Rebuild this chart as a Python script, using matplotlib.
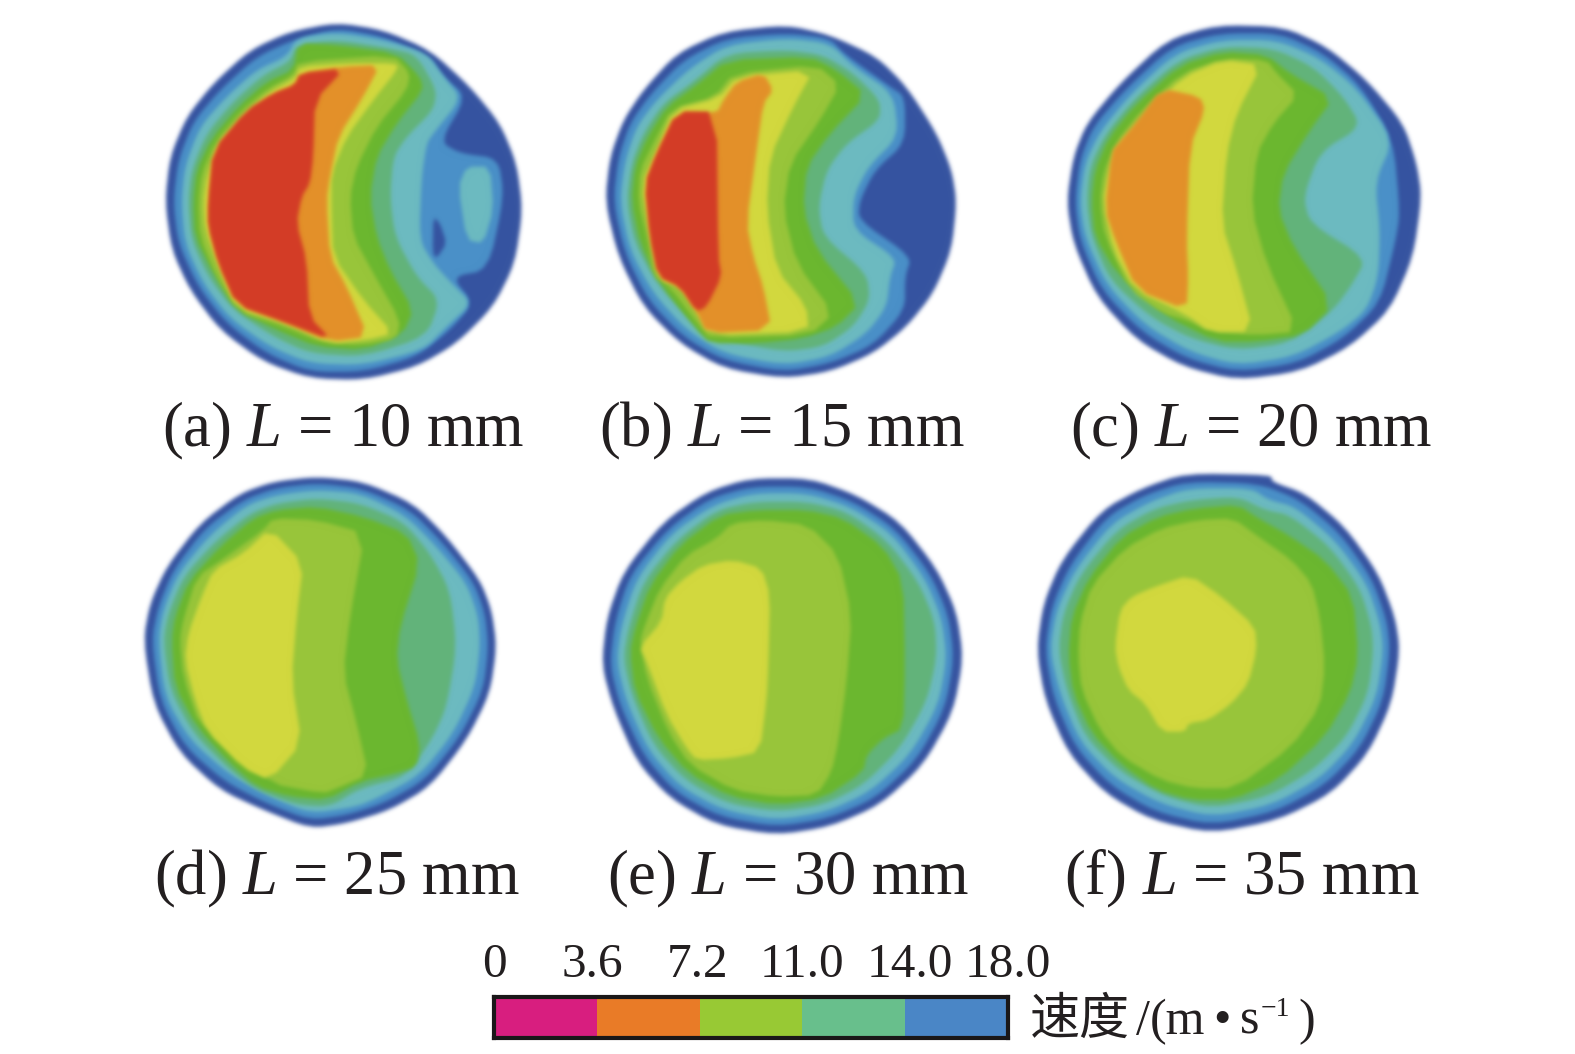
import matplotlib
matplotlib.use("Agg")
import matplotlib.pyplot as plt
import numpy as np
from matplotlib.colors import to_rgb

plt.rcParams['mathtext.fontset'] = 'custom'
plt.rcParams['mathtext.it'] = 'Liberation Serif:italic'
plt.rcParams['mathtext.rm'] = 'Liberation Serif'
SERIF = ['Liberation Serif', 'Noto Sans CJK SC']

# ---- data ----
band_colors = {'dark': '#3553A0', 'blue': '#4A90C8', 'teal': '#6CBAC0', 'tealgreen': '#62B37A',
               'green': '#6BB72F', 'lime': '#98C53A', 'yellow': '#D2D83E', 'orange': '#E39029', 'red': '#D33C26'}
captions = ['(a) $L$ = 10 mm', '(b) $L$ = 15 mm', '(c) $L$ = 20 mm',
            '(d) $L$ = 25 mm', '(e) $L$ = 30 mm', '(f) $L$ = 35 mm']
caption_x = [343, 782, 1251, 337, 788, 1242]
caption_y = [446, 446, 446, 894, 894, 894]
origins = [(150, 10), (590, 10), (1050, 10), (130, 460), (590, 465), (1025, 460)]

panel_a = [
 ('dark', [(45,575),(60,440),(110,320),(190,220),(300,120),(420,65),(560,38),(700,60),(840,120),(960,230),(1050,340),(1100,460),(1118,600),(1095,760),(1030,890),(920,1000),(800,1070),(640,1110),(480,1105),(340,1055),(210,960),(120,840),(65,720)]),
 ('blue', [(70,575),(85,450),(130,335),(210,240),(320,140),(430,90),(560,55),(700,80),(840,140),(880,200),(950,260),(870,395),(930,430),(1045,445),(1062,560),(1015,780),(905,800),(970,880),(900,960),(800,1040),(640,1085),(480,1085),(350,1030),(230,940),(145,830),(85,700)]),
 ('dark', [(850,620),(870,640),(890,700),(860,745),(848,730)]),
 ('teal', [(95,575),(105,470),(150,350),(230,260),(320,180),(410,140),(440,85),(560,68),(700,90),(830,130),(880,200),(935,265),(850,370),(830,400),(815,500),(808,690),(850,760),(905,820),(965,880),(890,950),(820,1020),(640,1065),(480,1060),(360,1010),(240,925),(160,820),(105,700)]),
 ('teal', [(950,470),(1020,470),(1030,600),(1000,700),(950,690),(925,530)]),
 ('tealgreen', [(115,575),(125,480),(170,370),(250,275),(340,195),(420,155),(440,105),(560,90),(720,115),(800,135),(860,240),(850,300),(770,380),(730,440),(720,560),(735,680),(800,800),(870,870),(830,980),(640,1040),(480,1030),(370,980),(250,900),(175,800),(125,690)]),
 ('green', [(130,575),(140,480),(185,385),(265,290),(350,215),(430,180),(445,100),(560,105),(740,130),(810,200),(820,240),(740,340),(680,440),(660,560),(680,680),(720,780),(790,900),(760,970),(640,1020),(500,1010),(380,960),(260,900),(190,790),(135,680)]),
 ('lime', [(145,575),(155,490),(195,395),(275,300),(355,235),(430,195),(445,155),(730,135),(780,190),(770,240),(680,350),(620,470),(600,560),(610,680),(670,790),(750,930),(740,985),(640,1005),(520,1000),(400,950),(265,905),(200,800),(150,680)]),
 ('yellow', [(160,575),(170,500),(205,400),(285,310),(360,245),(435,205),(450,170),(590,160),(735,160),(745,175),(670,270),(590,380),(545,490),(545,600),(550,740),(640,870),(730,970),(650,990),(540,1000),(420,945),(260,895),(205,770),(165,660)]),
 ('orange', [(175,575),(190,420),(290,310),(370,250),(435,225),(450,190),(580,170),(690,165),(640,260),(565,380),(540,500),(530,570),(540,740),(590,830),(655,980),(540,995),(400,935),(260,885),(205,760),(175,650)]),
 ('red', [(175,575),(190,420),(290,300),(370,250),(435,225),(450,190),(585,175),(495,270),(490,440),(480,520),(455,560),(440,640),(470,750),(478,920),(545,990),(400,935),(260,885),(205,760),(175,650)]),
]
panel_b = [
 ('dark', [(45,575),(60,440),(100,330),(160,240),(260,130),(400,65),(590,45),(720,75),(860,140),(950,230),(1040,370),(1085,480),(1100,575),(1085,720),(1030,850),(950,950),(850,1030),(720,1085),(580,1105),(400,1075),(270,1000),(160,890),(85,740)]),
 ('blue', [(70,575),(85,445),(120,340),(180,255),(280,150),(410,85),(590,70),(720,85),(760,130),(900,230),(945,260),(945,400),(855,480),(810,570),(805,630),(965,740),(945,800),(945,900),(850,1005),(720,1060),(580,1085),(400,1050),(280,980),(175,870),(105,730)]),
 ('teal', [(90,575),(105,455),(140,350),(200,270),(300,175),(410,105),(590,85),(720,100),(790,170),(910,250),(925,380),(835,470),(790,560),(790,660),(920,745),(900,800),(890,890),(830,970),(720,1040),(580,1065),(400,1030),(290,960),(190,850),(120,720)]),
 ('tealgreen', [(110,575),(125,460),(160,370),(220,280),(310,215),(410,130),(590,120),(700,135),(790,190),(870,270),(870,330),(770,400),(710,480),(685,590),(700,680),(830,790),(840,870),(790,950),(700,1010),(580,1025),(400,990),(300,930),(200,820),(135,700)]),
 ('green', [(125,575),(135,470),(170,385),(230,290),(320,225),(410,150),(660,140),(740,180),(830,255),(720,370),(650,470),(640,600),(680,720),(810,880),(740,950),(640,985),(500,1000),(360,1000),(320,960),(210,820),(150,700)]),
 ('lime', [(145,575),(150,480),(195,390),(245,295),(375,260),(430,190),(680,165),(750,225),(690,330),(600,460),(580,600),(620,760),(730,910),(660,975),(360,985),(330,950),(240,830),(190,800),(170,680)]),
 ('yellow', [(155,520),(200,420),(250,300),(385,265),(440,200),(670,180),(610,290),(540,440),(530,600),(560,780),(650,890),(655,965),(360,975),(320,905),(270,830),(210,810),(180,680)]),
 ('orange', [(165,520),(200,430),(260,305),(380,310),(400,270),(440,215),(520,190),(550,240),(520,280),(500,420),(470,640),(490,740),(520,830),(545,960),(350,970),(320,905),(270,830),(205,800),(180,680)]),
 ('red', [(165,520),(200,430),(260,305),(380,305),(385,740),(395,800),(350,890),(320,905),(270,830),(205,800),(180,680)]),
]
panel_c = [
 ('dark', [(50,575),(70,440),(110,340),(210,220),(350,90),(500,45),(700,50),(830,110),(950,210),(1060,340),(1100,460),(1115,560),(1090,740),(1020,900),(900,1010),(750,1085),(560,1110),(400,1070),(260,990),(140,860),(70,700)]),
 ('blue', [(75,575),(90,450),(130,350),(225,240),(365,110),(510,70),(690,70),(820,130),(930,225),(1030,390),(1050,610),(1035,700),(990,880),(880,985),(740,1060),(560,1085),(410,1045),(275,965),(155,840),(90,690)]),
 ('teal', [(90,575),(105,460),(150,365),(240,255),(375,130),(515,90),(680,90),(810,145),(920,235),(1030,390),(975,515),(990,660),(985,800),(950,900),(870,965),(730,1040),(560,1065),(420,1025),(285,945),(170,825),(105,680)]),
 ('tealgreen', [(110,575),(120,470),(165,375),(250,270),(385,150),(520,110),(670,115),(790,170),(880,260),(935,350),(810,425),(760,560),(780,640),(950,745),(905,825),(850,900),(720,1000),(560,1020),(420,985),(300,920),(180,810),(125,680)]),
 ('green', [(125,575),(135,480),(175,385),(255,285),(390,165),(520,125),(650,135),(720,190),(850,265),(780,360),(700,490),(685,600),(730,710),(850,885),(760,975),(620,995),(500,995),(350,920),(200,790),(135,680)]),
 ('lime', [(150,575),(160,490),(195,400),(275,300),(395,190),(520,145),(650,150),(680,190),(745,255),(670,340),(620,430),(605,600),(650,760),(745,965),(620,975),(480,965),(410,930),(340,910),(240,840),(165,680)]),
 ('yellow', [(160,575),(175,490),(200,410),(290,310),(400,200),(520,150),(635,165),(560,310),(530,430),(515,640),(560,780),(610,965),(480,965),(410,915),(255,840),(190,720)]),
 ('orange', [(165,600),(185,425),(205,400),(260,335),(335,235),(450,260),(465,300),(420,410),(410,690),(415,800),(410,900),(260,840),(195,690)]),
]
panel_d = [
 ('dark', [(40,540),(60,430),(110,320),(210,190),(330,100),(430,65),(560,50),(700,65),(850,130),(950,230),(1050,360),(1085,450),(1100,560),(1080,700),(1010,840),(900,980),(780,1050),(650,1090),(540,1105),(400,1050),(270,990),(150,880),(70,730)]),
 ('blue', [(65,540),(85,440),(130,330),(225,205),(340,120),(435,85),(560,70),(695,85),(840,150),(935,245),(1030,365),(1065,460),(1075,560),(1060,690),(990,830),(885,960),(760,1030),(650,1065),(540,1080),(410,1030),(285,965),(165,860),(90,720)]),
 ('teal', [(85,540),(100,450),(145,340),(240,225),(350,135),(440,105),(560,90),(690,100),(825,165),(920,260),(1010,370),(1045,470),(1050,560),(1035,680),(970,820),(870,945),(750,1010),(680,1040),(540,1060),(420,1010),(300,945),(180,840),(105,710)]),
 ('tealgreen', [(100,540),(115,460),(160,350),(255,245),(360,160),(440,130),(560,115),(690,130),(820,185),(900,280),(960,390),(980,560),(950,740),(910,830),(830,950),(690,985),(600,1040),(500,1035),(380,990),(300,930),(190,820),(120,690)]),
 ('green', [(125,540),(135,470),(175,365),(270,260),(370,175),(440,150),(560,140),(700,170),(830,220),(870,310),(810,500),(800,600),(830,720),(870,850),(860,920),(800,940),(690,965),(590,1020),(480,1010),(380,980),(300,910),(200,800),(135,680)]),
 ('lime', [(150,540),(160,480),(200,350),(290,290),(400,210),(430,175),(560,180),(705,220),(660,470),(640,640),(680,790),(715,945),(620,985),(580,1000),(420,970),(210,800),(160,650)]),
 ('yellow', [(165,600),(175,520),(215,410),(250,330),(340,280),(420,205),(520,310),(500,470),(485,660),(515,850),(420,960),(340,925),(230,810),(195,720)]),
]
panel_e = [
 ('dark', [(35,600),(50,460),(100,320),(220,170),(350,80),(480,40),(660,40),(800,90),(930,170),(1040,310),(1100,440),(1120,580),(1090,740),(1000,900),(870,1020),(720,1085),(560,1110),(380,1080),(240,1000),(140,890),(70,730)]),
 ('blue', [(60,600),(75,470),(120,330),(235,190),(360,100),(485,65),(655,65),(790,110),(915,190),(1020,325),(1075,450),(1092,580),(1065,730),(980,885),(855,1000),(715,1060),(560,1085),(390,1055),(255,980),(160,870),(90,720)]),
 ('teal', [(80,590),(95,480),(140,340),(245,205),(370,120),(490,85),(650,85),(780,125),(905,205),(1005,340),(1055,460),(1070,580),(1045,720),(960,870),(840,980),(710,1040),(560,1065),(400,1035),(270,965),(175,855),(110,710)]),
 ('tealgreen', [(100,580),(115,490),(160,350),(260,225),(380,135),(495,110),(650,110),(770,140),(890,225),(985,350),(1035,470),(1040,580),(1010,710),(930,850),(820,960),(700,1020),(560,1040),(410,1015),(285,945),(190,840),(125,690)]),
 ('green', [(120,560),(135,490),(180,360),(270,240),(390,150),(500,135),(650,135),(760,160),(880,245),(940,350),(945,600),(940,790),(880,820),(830,870),(820,920),(700,1000),(560,1020),(420,995),(295,925),(205,820),(135,680)]),
 ('lime', [(150,530),(165,480),(210,370),(290,270),(380,220),(425,175),(520,165),(655,180),(745,270),(785,450),(770,650),(745,830),(725,920),(680,990),(560,995),(430,975),(300,900),(235,800),(170,640)]),
 ('yellow', [(150,545),(215,470),(225,400),(270,350),(340,300),(430,285),(515,310),(540,390),(535,600),(530,700),(510,860),(420,880),(320,885),(290,850),(230,750),(170,590)]),
]
panel_f = [
 ('dark', [(35,570),(55,430),(110,300),(230,150),(350,85),(480,40),(740,45),(740,65),(840,100),(960,200),(1060,340),(1110,470),(1125,570),(1100,730),(1030,880),(920,1000),(760,1080),(560,1120),(380,1080),(240,1000),(130,880),(60,720)]),
 ('blue', [(60,570),(80,440),(135,315),(245,170),(360,105),(485,65),(700,70),(825,120),(945,220),(1040,355),(1085,480),(1095,570),(1075,720),(1005,865),(900,975),(750,1055),(560,1095),(390,1055),(255,975),(150,860),(85,710)]),
 ('teal', [(75,570),(95,450),(150,330),(260,190),(375,125),(490,85),(680,85),(730,120),(810,140),(930,240),(1025,370),(1065,490),(1075,570),(1055,710),(985,850),(885,955),(740,1035),(560,1070),(405,1030),(270,955),(165,845),(105,700)]),
 ('tealgreen', [(100,570),(115,460),(165,345),(275,210),(390,145),(500,120),(640,110),(720,150),(795,165),(915,260),(1005,385),(1040,500),(1045,575),(1030,700),(965,830),(865,930),(730,1010),(560,1045),(420,1010),(285,935),(180,830),(125,690)]),
 ('green', [(130,590),(140,470),(190,355),(290,230),(400,170),(510,145),(640,135),(700,175),(790,225),(900,300),(985,410),(1000,590),(975,700),(900,830),(760,960),(620,1020),(500,1020),(395,990),(290,915),(200,820),(145,700)]),
 ('lime', [(160,590),(165,490),(200,375),(300,265),(410,205),(520,180),(625,175),(700,230),(800,300),(860,370),(885,470),(900,620),(885,740),(800,860),(630,985),(510,985),(410,960),(290,890),(225,810),(170,690)]),
 ('yellow', [(270,560),(285,450),(320,410),(390,380),(495,345),(590,410),(690,500),(695,570),(670,670),(620,730),(550,780),(490,790),(480,815),(410,815),(360,730),(310,690),(280,620)]),
]
panels = [panel_a, panel_b, panel_c, panel_d, panel_e, panel_f]

bar_labels = ['0', '3.6', '7.2', '11.0', '14.0', '18.0']
bar_colors = ['#D81E7F', '#E97B27', '#98C934', '#68BF8C', '#4A86C6']


def round_corners(points, passes):
    """Corner cutting: the source contours are soft, not straight-sided."""
    pts = np.asarray(points, float)
    for _ in range(passes):
        nxt = np.roll(pts, -1, axis=0)
        pts = np.column_stack([0.8 * pts + 0.2 * nxt, 0.2 * pts + 0.8 * nxt]).reshape(-1, 2)
    return pts


def soft_edge(color, sigma=2.0, pad=8):
    """Agg filter: keep the band colour, blur only its coverage (the source is a soft bitmap)."""
    rgb = to_rgb(color)
    radius = int(3 * sigma)
    kernel = np.exp(-0.5 * (np.arange(-radius, radius + 1) / sigma) ** 2)
    kernel /= kernel.sum()

    def process(image, dpi):
        alpha = np.pad(image[:, :, 3], pad)
        alpha = np.apply_along_axis(np.convolve, 0, alpha, kernel, mode='same')
        alpha = np.apply_along_axis(np.convolve, 1, alpha, kernel, mode='same')
        out = np.zeros(alpha.shape + (4,))
        out[:, :, :3] = rgb
        out[:, :, 3] = alpha
        return out, -pad, -pad
    return process


# ---- figure ----
W, H = 1575, 1054
fig = plt.figure(figsize=(W / 100, H / 100), dpi=100, facecolor='white')
ax = fig.add_axes([0, 0, 1, 1])
ax.set_xlim(0, W)
ax.set_ylim(H, 0)
ax.axis('off')

for panel, (ox, oy) in zip(panels, origins):
    for band, outline in panel:
        passes = 2 if band in ('dark', 'blue', 'teal', 'tealgreen') and len(outline) > 10 else 1
        pts = round_corners(outline, passes)
        c = band_colors[band]
        poly = ax.fill(ox + pts[:, 0] / 3, oy + pts[:, 1] / 3, facecolor=c, edgecolor='none')[0]
        poly.set_agg_filter(soft_edge(c))

for text, x, y in zip(captions, caption_x, caption_y):
    ax.text(x, y, text, family='Liberation Serif', fontsize=45, ha='center', va='baseline', color='#231F20')

# colour scale
cax = fig.add_axes([494 / W, 1 - 1038 / H, (1008 - 494) / W, 41 / H])
cax.barh([0] * 5, [1] * 5, left=range(5), height=1, color=bar_colors)
cax.set_xlim(0, 5)
cax.set_ylim(-0.5, 0.5)
cax.set_xticks([])
cax.set_yticks([])
for s in cax.spines.values():
    s.set_linewidth(3)
    s.set_color('#1A1718')

tick_x = [494, 592, 698, 802, 910, 1008]
for lab, x in zip(bar_labels, tick_x):
    ax.text(x, 977, lab, family='Liberation Serif', fontsize=35.5, ha='center', va='baseline', color='#231F20')

ax.text(1030, 1034, '速度', family=SERIF, fontsize=36, weight='light', ha='left', va='baseline', color='#231F20')
ax.text(1136, 1034, '/', family=SERIF, fontsize=36, ha='left', va='baseline', color='#231F20')
ax.text(1150, 1034, '(m', family=SERIF, fontsize=36, ha='left', va='baseline', color='#231F20')
ax.text(1222, 1034, '•', family=SERIF, fontsize=36, ha='center', va='baseline', color='#231F20')
ax.text(1240, 1034, 's', family=SERIF, fontsize=36, ha='left', va='baseline', color='#231F20')
ax.text(1261, 1016, '−1', family=SERIF, fontsize=20, ha='left', va='baseline', color='#231F20')
ax.text(1298, 1034, ')', family=SERIF, fontsize=36, ha='left', va='baseline', color='#231F20')

fig.savefig('out.png', dpi=100)
